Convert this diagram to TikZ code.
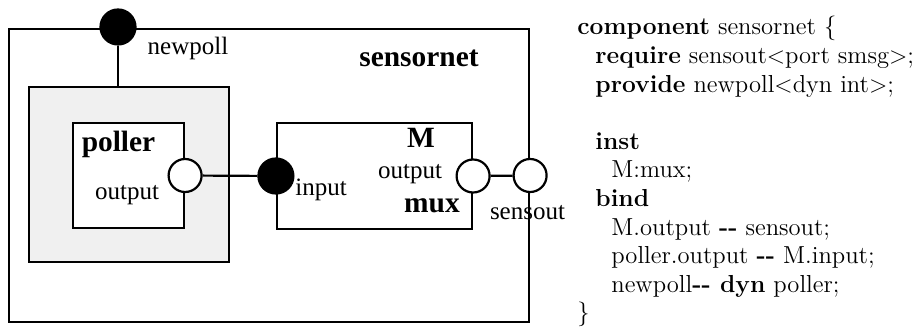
\documentclass[tikz,border=0pt]{standalone}
\usepackage{fontspec}
\usepackage{tikz}
\usetikzlibrary{positioning}
\newfontfamily\diagfont{Liberation Serif}
\definecolor{LightGray}{RGB}{240,240,240}
\tikzset{
  compbox/.style={draw=black,line width=1.1pt,fill=white,inner sep=0pt},
  provport/.style={draw=black,line width=1.1pt,circle,fill=black,
    minimum size=17.5pt,inner sep=0pt},
  reqport/.style={draw=black,line width=1.1pt,circle,fill=white,
    minimum size=16.5pt,inner sep=0pt},
  wire/.style={line width=1.1pt},
  portlabel/.style={font=\diagfont\fontsize{12.5}{14}\selectfont,
    inner sep=0pt,anchor=base},
  namelabel/.style={font=\diagfont\fontsize{14.7}{17}\selectfont\bfseries,
    inner sep=0pt,anchor=base},
  codetext/.style={font=\fontsize{12.3}{14.3}\selectfont,
    inner sep=0pt,anchor=base west},
}

\begin{document}
\begin{tikzpicture}[x=0.5pt,y=-0.5pt]
  \useasboundingbox (0,0) rectangle (924,330);
  % components
  \node[compbox,minimum width=260pt,minimum height=146.5pt] (net) at (269,175.5) {};
  \node[compbox,fill=LightGray,minimum width=100pt,minimum height=87.5pt] (pollgrp) at (129,174.5) {};
  \node[compbox,minimum width=55.5pt,minimum height=52.5pt] (poller) at (128.5,175.5) {};
  \node[compbox,minimum width=97.5pt,minimum height=53pt] (mux) at (374.5,176) {};
  % ports
  \node[provport] (newpoll) at (118,27) {};
  \node[reqport] (pout) at (poller.east) {};
  \node[provport] (min) at (mux.west) {};
  \node[reqport] (mout) at (mux.east) {};
  \node[reqport] (sensout) at (net.east) {};
  % bindings
  \draw[wire] (newpoll.south) -- (newpoll |- pollgrp.north);
  \draw[wire] (pout) -- (min);
  \draw[wire] (mout) -- (sensout);
  % labels
  \node[portlabel] (newpolllbl) at (188,55) {newpoll};
  \node[namelabel] (netlbl) at (419,66.5) {sensornet};
  \node[namelabel] (pollerlbl) at (118.5,152) {poller};
  \node[portlabel] (poutlbl) at (127,200) {output};
  \node[portlabel] (minlbl) at (321,196) {input};
  \node[namelabel] (mlbl) at (421,148) {M};
  \node[portlabel] (moutlbl) at (410,179) {output};
  \node[namelabel] (muxlbl) at (432,213) {mux};
  \node[portlabel] (sensoutlbl) at (527.5,220) {sensout};
  % description
  \node[codetext] (code) at (577,35) {%
    \begin{tabular}[t]{@{}l@{}}
      \textbf{component} sensornet \{\\
      \hspace*{9pt}\textbf{require} sensout$<$port smsg$>$;\\
      \hspace*{9pt}\textbf{provide} newpoll$<$dyn int$>$;\\
      \\
      \hspace*{9pt}\textbf{inst}\\
      \hspace*{17pt}M:mux;\\
      \hspace*{9pt}\textbf{bind}\\
      \hspace*{17pt}M.output \textbf{-{}-} sensout;\\
      \hspace*{17pt}poller.output \textbf{-{}-} M.input;\\
      \hspace*{17pt}newpoll\textbf{-{}- dyn} poller;\\
      \}
    \end{tabular}};
\end{tikzpicture}
\end{document}
